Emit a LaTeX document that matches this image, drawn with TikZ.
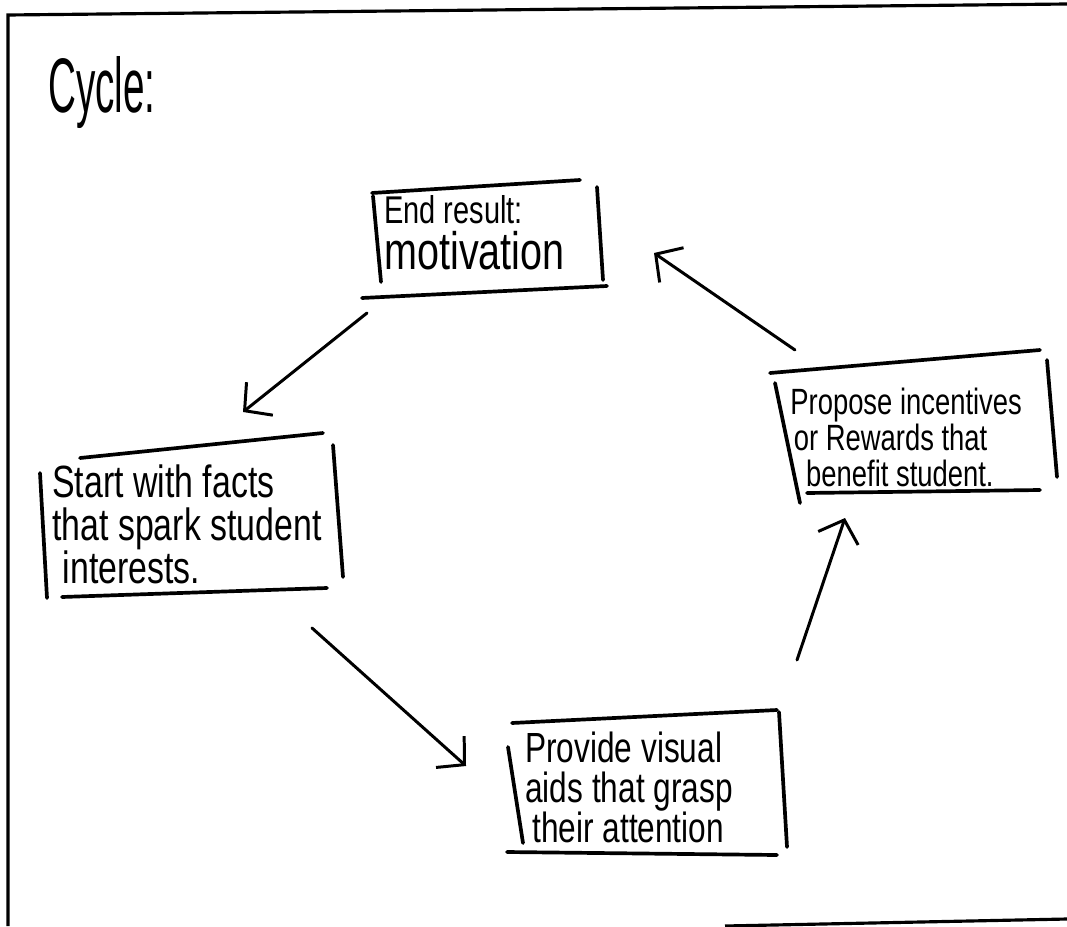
\documentclass[tikz,border=0pt]{standalone}
\usepackage{fontspec}
\setmainfont{Liberation Sans}[FakeStretch=0.75]
\newfontfamily\cyclefont{Liberation Sans}[FakeStretch=0.5]
\usetikzlibrary{arrows.meta}
\lineskiplimit=-20pt
\begin{document}
\begin{tikzpicture}[x=0.02cm,y=-0.02cm,
  pen/.style={line width=2.1pt, line cap=round, line join=round},
  frame/.style={line width=1.8pt},
  arr/.style={line width=1.7pt, line cap=round, -{Straight Barb[length=11pt,width=24pt,line width=1.7pt]}},
  txt/.style={anchor=north west, inner sep=0pt, align=left}]
\useasboundingbox (0,0) rectangle (1067,926);

% page frame
\draw[frame] (8,926) -- (8,15) -- (1067,4);
\draw[frame] (725,926) -- (1067,919);

\node[txt, font=\cyclefont\fontsize{44}{48}\selectfont] (title) at (48,56) {Cycle:};

% box 1
\node[txt, font=\fontsize{22}{26.5}\selectfont] (b1) at (384,195) {End result:\\{\fontsize{30}{26.5}\selectfont motivation}};
\draw[pen] (372,193) -- (580,180);
\draw[pen] (373,196) -- (381,282);
\draw[pen] (597,187) -- (603,280);
\draw[pen] (362,298) -- (607,286);

% box 2
\node[txt, font=\fontsize{25.7}{24.5}\selectfont] (b2) at (52,464) {Start with facts\\that spark student\\\hspace{6pt}interests.};
\draw[pen] (80,458) -- (323,433);
\draw[pen] (333,445) -- (343,577);
\draw[pen] (40,473) -- (47,598);
\draw[pen] (62,597) -- (327,588);

% box 3
\node[txt, font=\fontsize{24}{22.7}\selectfont] (b3) at (525,732) {Provide visual\\aids that grasp\\\hspace{4pt}their attention};
\draw[pen] (512,723) -- (777,710);
\draw[pen] (779,712) -- (787,847);
\draw[pen] (508,747) -- (523,843);
\draw[pen] (507,852) -- (777,855);

% box 4
\node[txt, font=\fontsize{20.8}{20.4}\selectfont] (b4) at (790,388) {Propose incentives\\\hspace{2pt}or Rewards that\\\hspace{9pt}benefit student.};
\draw[pen] (770,373) -- (1040,350);
\draw[pen] (1047,360) -- (1057,477);
\draw[pen] (775,383) -- (800,503);
\draw[pen] (807,493) -- (1040,490);

% arrows
\coordinate (a1s) at (367,313); \coordinate (a1e) at (243,412);
\coordinate (a2s) at (312,628); \coordinate (a2e) at (466,766);
\coordinate (a3s) at (797,660); \coordinate (a3e) at (845,518);
\coordinate (a4s) at (795,350); \coordinate (a4e) at (654,253);
\draw[arr] (a1s) -- (a1e);
\draw[arr] (a2s) -- (a2e);
\draw[arr] (a3s) -- (a3e);
\draw[arr] (a4s) -- (a4e);
\end{tikzpicture}
\end{document}
